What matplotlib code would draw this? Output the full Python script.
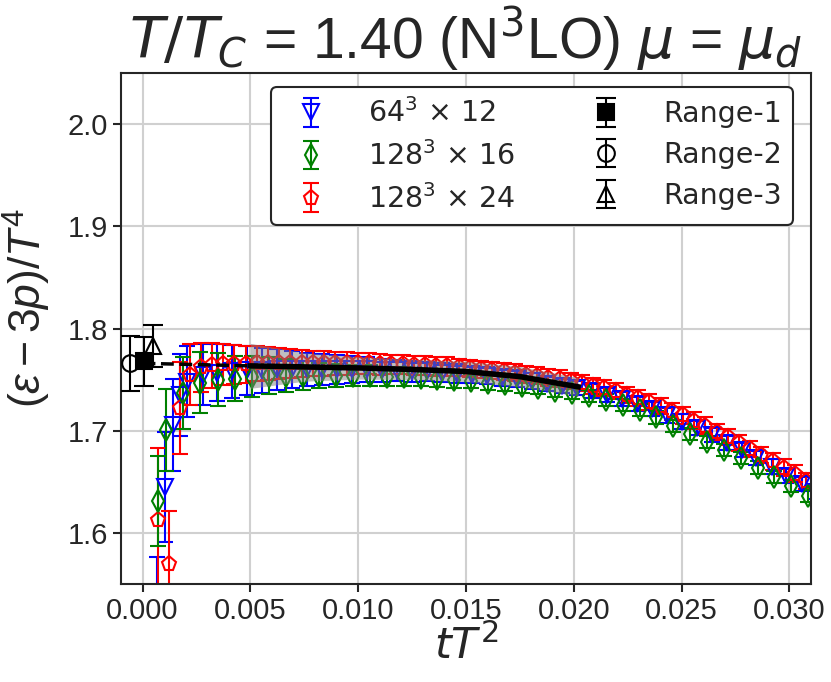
import matplotlib
matplotlib.use("Agg")
import matplotlib.pyplot as plt

plt.rcParams["font.family"] = ["Liberation Sans", "DejaVu Sans"]
plt.rcParams["mathtext.fontset"] = "custom"
plt.rcParams["mathtext.rm"] = "Liberation Sans"
plt.rcParams["mathtext.it"] = "Liberation Sans:italic"
plt.rcParams["mathtext.bf"] = "Liberation Sans:bold"

DARK = "#262626"

# 64^3 x 12
x_12 = [0.00069, 0.00104, 0.00139, 0.00174, 0.00208, 0.00278, 0.00347, 0.00417, 0.00486, 0.00556,
        0.00625, 0.00694, 0.00764, 0.00833, 0.00903, 0.00972, 0.01042, 0.01111, 0.01181, 0.01250,
        0.01319, 0.01389, 0.01458, 0.01528, 0.01597, 0.01667, 0.01736, 0.01806, 0.01875, 0.01944,
        0.02014, 0.02083, 0.02153, 0.02222, 0.02292, 0.02361, 0.02431, 0.02500, 0.02569, 0.02639,
        0.02708, 0.02778, 0.02847, 0.02917, 0.02986, 0.03056, 0.03125]
y_12 = [1.520, 1.645, 1.706, 1.735, 1.748, 1.755, 1.757, 1.758, 1.759, 1.759,
        1.760, 1.760, 1.760, 1.760, 1.760, 1.760, 1.760, 1.759, 1.759, 1.758,
        1.758, 1.757, 1.756, 1.755, 1.754, 1.752, 1.751, 1.749, 1.746, 1.744,
        1.742, 1.739, 1.735, 1.731, 1.726, 1.721, 1.715, 1.709, 1.703, 1.696,
        1.688, 1.681, 1.673, 1.665, 1.656, 1.648, 1.640]
e_12 = [0.056, 0.054, 0.045, 0.040, 0.035, 0.030, 0.028, 0.026, 0.024, 0.022,
        0.020, 0.018, 0.016, 0.015, 0.014, 0.013, 0.012, 0.011, 0.010, 0.010,
        0.009, 0.009, 0.009, 0.008, 0.008, 0.008, 0.008, 0.008, 0.007, 0.007,
        0.007, 0.007, 0.007, 0.007, 0.007, 0.007, 0.007, 0.007, 0.007, 0.007,
        0.007, 0.007, 0.007, 0.007, 0.007, 0.007, 0.007]

# 128^3 x 16
x_16 = [0.00072, 0.00108, 0.00188, 0.00266, 0.00348, 0.00430, 0.00508, 0.00586, 0.00664, 0.00742,
        0.00820, 0.00898, 0.00977, 0.01055, 0.01133, 0.01211, 0.01289, 0.01367, 0.01445, 0.01523,
        0.01602, 0.01680, 0.01758, 0.01836, 0.01914, 0.01992, 0.02070, 0.02148, 0.02227, 0.02305,
        0.02383, 0.02461, 0.02539, 0.02617, 0.02695, 0.02773, 0.02852, 0.02930, 0.03008, 0.03086,
        0.03164]
y_16 = [1.631, 1.701, 1.737, 1.747, 1.750, 1.751, 1.753, 1.754, 1.754, 1.754,
        1.754, 1.754, 1.754, 1.754, 1.753, 1.753, 1.752, 1.751, 1.750, 1.749,
        1.747, 1.746, 1.744, 1.742, 1.739, 1.737, 1.734, 1.730, 1.725, 1.720,
        1.713, 1.705, 1.697, 1.689, 1.681, 1.673, 1.664, 1.655, 1.646, 1.636,
        1.627]
e_16 = [0.044, 0.040, 0.035, 0.030, 0.026, 0.022, 0.020, 0.018, 0.016, 0.014,
        0.012, 0.011, 0.010, 0.010, 0.009, 0.009, 0.008, 0.008, 0.008, 0.007,
        0.007, 0.007, 0.007, 0.006, 0.006, 0.006, 0.006, 0.006, 0.006, 0.006,
        0.006, 0.006, 0.006, 0.006, 0.006, 0.006, 0.006, 0.006, 0.006, 0.006,
        0.006]

# 128^3 x 24
x_24 = [0.00072, 0.00122, 0.00173, 0.00219, 0.00270, 0.00322, 0.00374, 0.00426, 0.00478, 0.00530,
        0.00582, 0.00634, 0.00686, 0.00738, 0.00790, 0.00842, 0.00894, 0.00946, 0.00998, 0.01050,
        0.01102, 0.01154, 0.01206, 0.01258, 0.01310, 0.01362, 0.01414, 0.01466, 0.01518, 0.01570,
        0.01622, 0.01674, 0.01726, 0.01778, 0.01830, 0.01882, 0.01934, 0.01986, 0.02038, 0.02090,
        0.02142, 0.02194, 0.02246, 0.02298, 0.02350, 0.02402, 0.02454, 0.02506, 0.02558, 0.02610,
        0.02662, 0.02714, 0.02766, 0.02818, 0.02870, 0.02922, 0.02974, 0.03026, 0.03078, 0.03130]
y_24 = [1.613, 1.570, 1.722, 1.755, 1.762, 1.764, 1.765, 1.765, 1.765, 1.766,
        1.766, 1.766, 1.766, 1.766, 1.766, 1.766, 1.766, 1.766, 1.766, 1.766,
        1.765, 1.765, 1.765, 1.764, 1.764, 1.763, 1.763, 1.762, 1.761, 1.760,
        1.759, 1.758, 1.757, 1.755, 1.754, 1.752, 1.751, 1.749, 1.747, 1.744,
        1.742, 1.739, 1.735, 1.732, 1.728, 1.724, 1.719, 1.715, 1.710, 1.705,
        1.699, 1.694, 1.688, 1.682, 1.676, 1.670, 1.664, 1.658, 1.651, 1.645]
e_24 = [0.070, 0.051, 0.045, 0.030, 0.024, 0.022, 0.020, 0.019, 0.018, 0.017,
        0.016, 0.015, 0.014, 0.013, 0.012, 0.012, 0.011, 0.011, 0.010, 0.010,
        0.010, 0.009, 0.009, 0.009, 0.009, 0.009, 0.009, 0.008, 0.008, 0.008,
        0.008, 0.008, 0.008, 0.008, 0.008, 0.008, 0.008, 0.008, 0.008, 0.008,
        0.008, 0.008, 0.008, 0.008, 0.008, 0.008, 0.008, 0.008, 0.008, 0.008,
        0.008, 0.008, 0.008, 0.008, 0.008, 0.008, 0.008, 0.008, 0.008, 0.008]

# extrapolated values, three fit ranges
range_x = [0.00005, -0.0006, 0.0005]
range_y = [1.768, 1.766, 1.783]
range_e = [0.024, 0.027, 0.021]
range_labels = ["Range-1", "Range-2", "Range-3"]
lattice_labels = [r"64$^3$ $\times$ 12", r"128$^3$ $\times$ 16", r"128$^3$ $\times$ 24"]

# fit curve with band
fit_x = [0.0050, 0.0075, 0.0100, 0.0125, 0.0150, 0.0175, 0.0202]
fit_y = [1.7635, 1.7625, 1.7615, 1.7600, 1.7580, 1.7530, 1.7430]
fit_e = [0.022, 0.014, 0.011, 0.010, 0.010, 0.010, 0.009]
dash_x = [0.0, 0.005]
dash_y = [1.766, 1.7635]

fig = plt.figure(figsize=(8.31, 6.82), dpi=100)
ax = fig.add_axes([0.1456, 0.1437, 0.8304, 0.749])

eb_kw = dict(ls="none", markersize=11, mfc="none", mew=1.5, elinewidth=1.5, capsize=6, capthick=1.5)
h12 = ax.errorbar(x_12, y_12, yerr=e_12, marker="v", color="blue", **eb_kw)
h24 = ax.errorbar(x_24, y_24, yerr=e_24, marker="p", color="red", **eb_kw)
h16 = ax.errorbar(x_16, y_16, yerr=e_16, marker="d", color="green", **eb_kw)

lo = [y - e for y, e in zip(fit_y, fit_e)]
hi = [y + e for y, e in zip(fit_y, fit_e)]
ax.fill_between(fit_x, lo, hi, color="gray", alpha=0.5, lw=0, zorder=4)
ax.plot(fit_x, fit_y, color="black", lw=4, zorder=5)
ax.plot(dash_x, dash_y, color="black", lw=2.5, ls="--", zorder=5)

rk = dict(ls="none", markersize=12, mew=1.5, elinewidth=1.5, capsize=7, capthick=1.5, color="black", zorder=6)
r1 = ax.errorbar([range_x[0]], [range_y[0]], yerr=[range_e[0]], marker="s", mfc="black", **rk)
r2 = ax.errorbar([range_x[1]], [range_y[1]], yerr=[range_e[1]], marker="o", mfc="none", **rk)
r3 = ax.errorbar([range_x[2]], [range_y[2]], yerr=[range_e[2]], marker="^", mfc="none", **rk)

ax.set_xlim(-0.001, 0.031)
ax.set_ylim(1.55, 2.05)
ax.set_xticks([0.0, 0.005, 0.010, 0.015, 0.020, 0.025, 0.030])
ax.set_xticklabels(["0.000", "0.005", "0.010", "0.015", "0.020", "0.025", "0.030"])
ax.set_yticks([1.6, 1.7, 1.8, 1.9, 2.0])
ax.grid(True, color="#d0d0d0", lw=1.5, zorder=0)
ax.set_axisbelow(True)
for s in ax.spines.values():
    s.set_color(DARK)
    s.set_linewidth(1.5)
ax.tick_params(labelsize=21, colors=DARK, length=6, width=1.5, direction="out")

ax.set_title(r"$T/T_C$ = 1.40 (N$^3$LO) $\mu$ = $\mu_d$", fontsize=41, color=DARK, pad=6,
             math_fontfamily="dejavusans")
ax.set_xlabel(r"$tT^2$", fontsize=31, color=DARK, labelpad=0, math_fontfamily="dejavusans")
ax.set_ylabel(r"$(\varepsilon - 3p)/T^4$", fontsize=32, color=DARK)
ax.yaxis.set_label_coords(-0.098, 0.54)

leg = ax.legend([h12, h16, h24, r1, r2, r3], lattice_labels + range_labels,
                ncol=2, loc="upper right", bbox_to_anchor=(0.974, 0.973), borderaxespad=0,
                prop={"family": "DejaVu Sans", "size": 20.5}, frameon=True, fancybox=True, framealpha=1,
                handlelength=2.0, handletextpad=1.0, columnspacing=2.2, labelspacing=0.45)
leg.get_frame().set_edgecolor(DARK)
leg.get_frame().set_linewidth(1.5)
for t in leg.get_texts():
    t.set_color(DARK)
    t.set_math_fontfamily("dejavusans")

fig.savefig("out.png", dpi=100)
